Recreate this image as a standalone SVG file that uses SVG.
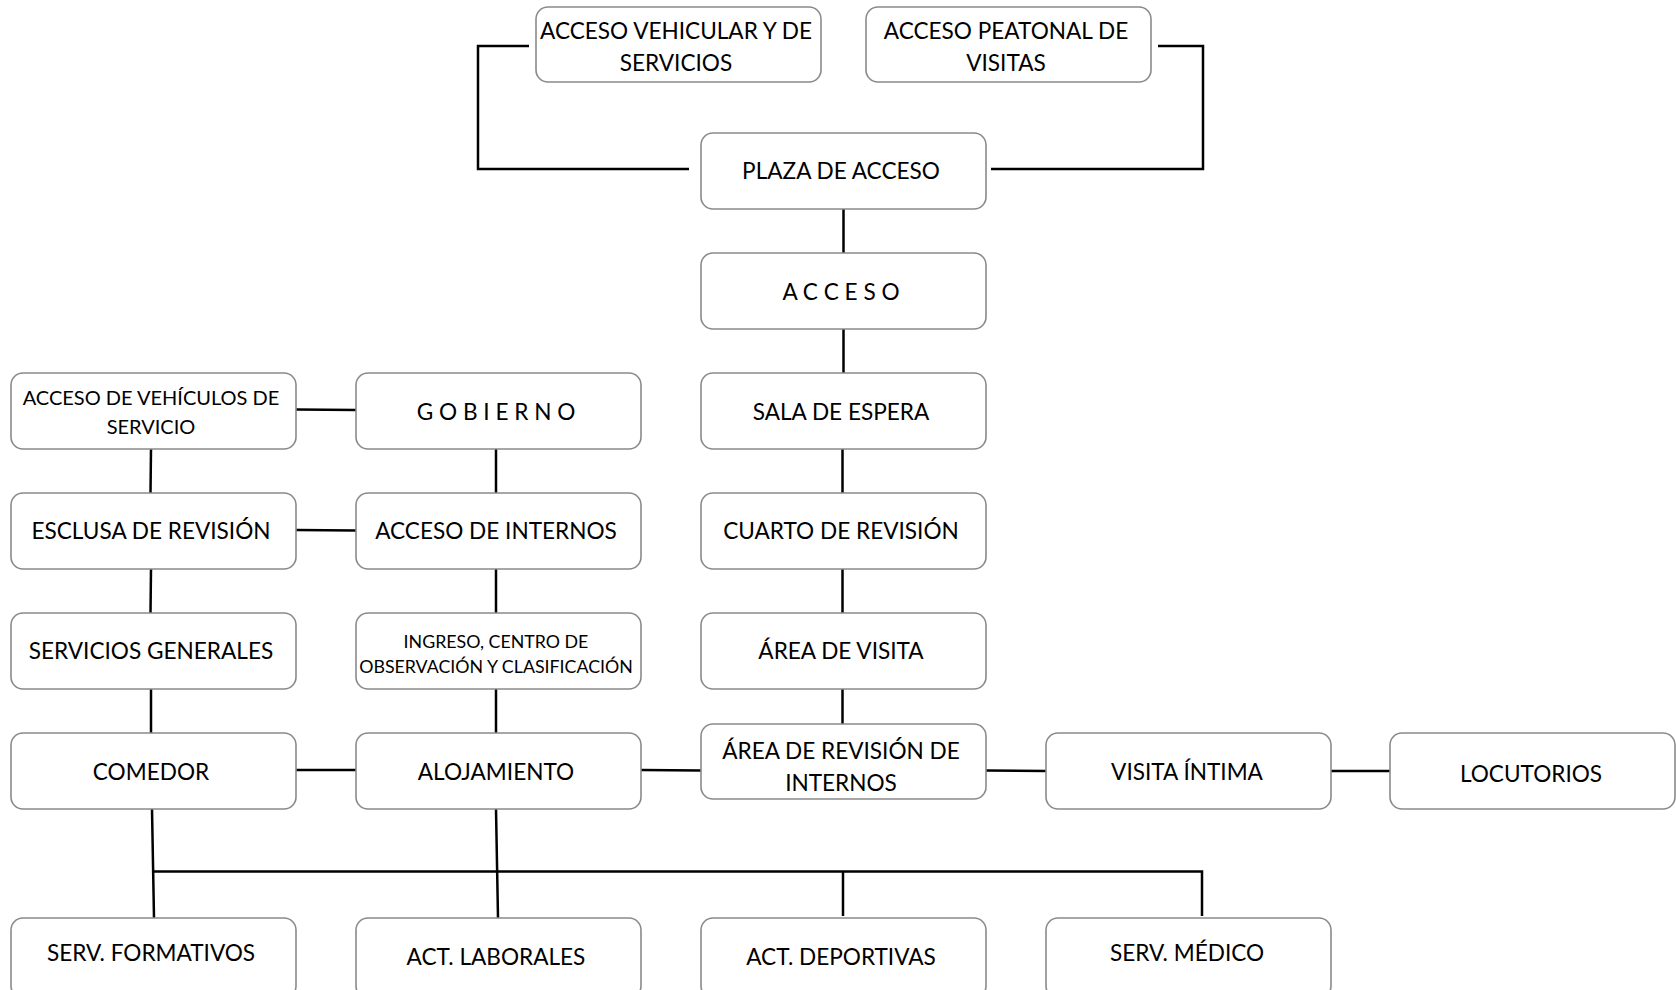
<svg xmlns="http://www.w3.org/2000/svg" width="1676" height="990" viewBox="0 0 1676 990">
<style>
.box{fill:#ffffff;stroke:#8a8a8a;stroke-width:1.6}
.t{font-family:Lato,"Open Sans",sans-serif;font-size:22.6px;fill:#000;text-anchor:middle;dominant-baseline:central}
.s{font-size:20px}
.xs{font-size:17.8px}
.c{fill:none;stroke:#000;stroke-width:2.5}
</style>
<rect width="1676" height="990" fill="#fff"/>
<g id="connectors">
<polyline class="c" points="529,46 478,46 478,169 689,169"/>
<polyline class="c" points="1158,46 1203,46 1203,169 991,169"/>
<line class="c" x1="843.5" y1="209" x2="843.5" y2="253"/>
<line class="c" x1="843.5" y1="329" x2="843.5" y2="373"/>
<line class="c" x1="842.5" y1="449" x2="842.5" y2="493"/>
<line class="c" x1="842.5" y1="569" x2="842.5" y2="613"/>
<line class="c" x1="842.5" y1="689" x2="842.5" y2="733"/>
<line class="c" x1="296" y1="409.5" x2="356" y2="410"/>
<line class="c" x1="296" y1="530" x2="356" y2="530.5"/>
<line class="c" x1="296" y1="770" x2="356" y2="770"/>
<line class="c" x1="641" y1="770" x2="701" y2="770.5"/>
<line class="c" x1="986" y1="770.5" x2="1046" y2="771"/>
<line class="c" x1="1331" y1="771" x2="1390" y2="771"/>
<line class="c" x1="151" y1="449" x2="150.5" y2="493"/>
<line class="c" x1="151" y1="569" x2="150.5" y2="613"/>
<line class="c" x1="151" y1="689" x2="151" y2="733"/>
<line class="c" x1="496" y1="449" x2="496" y2="493"/>
<line class="c" x1="496" y1="569" x2="496" y2="613"/>
<line class="c" x1="496" y1="689" x2="496" y2="733"/>
<line class="c" x1="152" y1="809" x2="154" y2="918"/>
<line class="c" x1="496" y1="809" x2="498" y2="918"/>
<polyline class="c" points="154,871.5 1202,871.5 1202,916"/>
<line class="c" x1="843" y1="871.5" x2="843" y2="916"/>
</g>
<g id="n-acceso-vehicular"><rect class="box" x="536" y="7" width="285" height="75" rx="12"/><text class="t" x="676" y="30">ACCESO VEHICULAR Y DE</text><text class="t" x="676" y="62">SERVICIOS</text></g>
<g id="n-acceso-peatonal"><rect class="box" x="866" y="7" width="285" height="75" rx="12"/><text class="t" x="1006" y="30">ACCESO PEATONAL DE</text><text class="t" x="1006" y="62">VISITAS</text></g>
<g id="n-plaza"><rect class="box" x="701" y="133" width="285" height="76" rx="12"/><text class="t" x="841" y="170">PLAZA DE ACCESO</text></g>
<g id="n-acceso"><rect class="box" x="701" y="253" width="285" height="76" rx="12"/><text class="t" x="841" y="291">A C C E S O</text></g>
<g id="n-veh-servicio"><rect class="box" x="11" y="373" width="285" height="76" rx="12"/><text class="t s" x="151" y="397">ACCESO DE VEHÍCULOS DE</text><text class="t s" x="151" y="426">SERVICIO</text></g>
<g id="n-gobierno"><rect class="box" x="356" y="373" width="285" height="76" rx="12"/><text class="t" x="496" y="411">G O B I E R N O</text></g>
<g id="n-sala"><rect class="box" x="701" y="373" width="285" height="76" rx="12"/><text class="t" x="841" y="411">SALA DE ESPERA</text></g>
<g id="n-esclusa"><rect class="box" x="11" y="493" width="285" height="76" rx="12"/><text class="t" x="151" y="530">ESCLUSA DE REVISIÓN</text></g>
<g id="n-acceso-internos"><rect class="box" x="356" y="493" width="285" height="76" rx="12"/><text class="t" x="496" y="530">ACCESO DE INTERNOS</text></g>
<g id="n-cuarto"><rect class="box" x="701" y="493" width="285" height="76" rx="12"/><text class="t" x="841" y="530">CUARTO DE REVISIÓN</text></g>
<g id="n-servicios-generales"><rect class="box" x="11" y="613" width="285" height="76" rx="12"/><text class="t" x="151" y="650">SERVICIOS GENERALES</text></g>
<g id="n-ingreso"><rect class="box" x="356" y="613" width="285" height="76" rx="12"/><text class="t xs" x="496" y="641">INGRESO, CENTRO DE</text><text class="t xs" x="496" y="666">OBSERVACIÓN Y CLASIFICACIÓN</text></g>
<g id="n-area-visita"><rect class="box" x="701" y="613" width="285" height="76" rx="12"/><text class="t" x="841" y="650">ÁREA DE VISITA</text></g>
<g id="n-comedor"><rect class="box" x="11" y="733" width="285" height="76" rx="12"/><text class="t" x="151" y="771">COMEDOR</text></g>
<g id="n-alojamiento"><rect class="box" x="356" y="733" width="285" height="76" rx="12"/><text class="t" x="496" y="771">ALOJAMIENTO</text></g>
<g id="n-area-revision"><rect class="box" x="701" y="724" width="285" height="75" rx="12"/><text class="t" x="841" y="750">ÁREA DE REVISIÓN DE</text><text class="t" x="841" y="782">INTERNOS</text></g>
<g id="n-visita-intima"><rect class="box" x="1046" y="733" width="285" height="76" rx="12"/><text class="t" x="1187" y="771">VISITA ÍNTIMA</text></g>
<g id="n-locutorios"><rect class="box" x="1390" y="733" width="285" height="76" rx="12"/><text class="t" x="1531" y="773">LOCUTORIOS</text></g>
<g id="n-serv-formativos"><rect class="box" x="11" y="918" width="285" height="80" rx="12"/><text class="t" x="151" y="952">SERV. FORMATIVOS</text></g>
<g id="n-act-laborales"><rect class="box" x="356" y="918" width="285" height="80" rx="12"/><text class="t" x="496" y="956">ACT. LABORALES</text></g>
<g id="n-act-deportivas"><rect class="box" x="701" y="918" width="285" height="80" rx="12"/><text class="t" x="841" y="956">ACT. DEPORTIVAS</text></g>
<g id="n-serv-medico"><rect class="box" x="1046" y="918" width="285" height="80" rx="12"/><text class="t" x="1187" y="952">SERV. MÉDICO</text></g>
</svg>
